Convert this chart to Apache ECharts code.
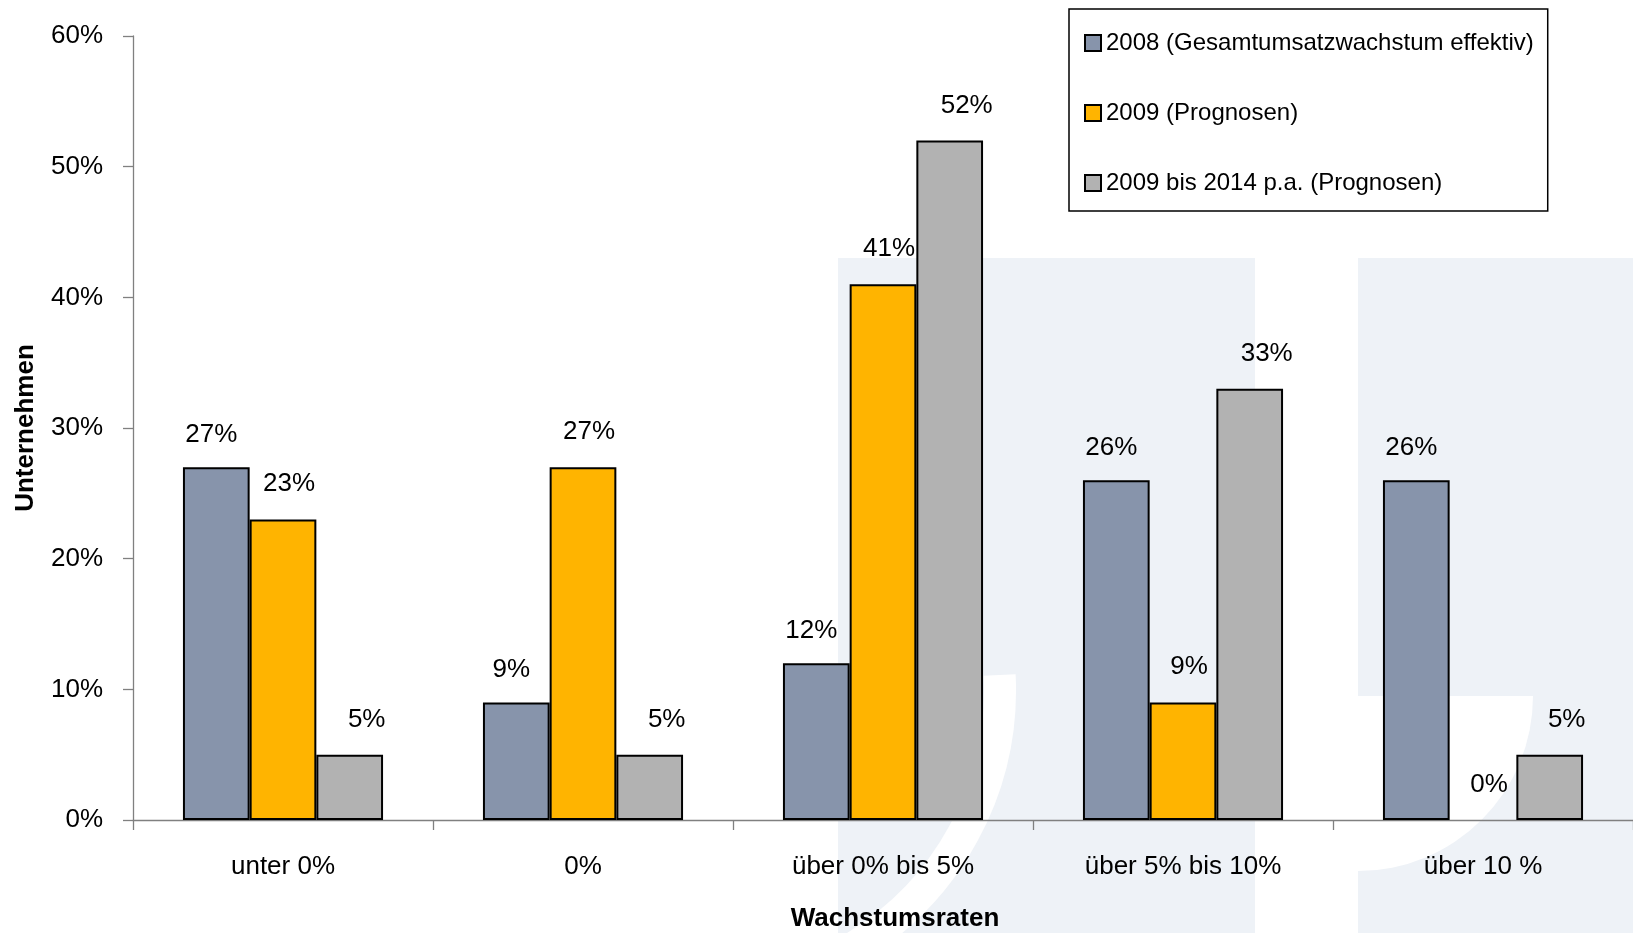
<!DOCTYPE html>
<html>
<head>
<meta charset="utf-8">
<script src="https://cdn.jsdelivr.net/npm/echarts@6/dist/echarts.min.js"></script>
<style>
html,body{margin:0;padding:0;background:#fff;overflow:hidden;}
#chart{width:1633px;height:933px;}
</style>
</head>
<body>
<div id="chart"></div>
<script>
const categories = ['unter 0%', '0%', 'über 0% bis 5%', 'über 5% bis 10%', 'über 10 %'];
const seriesNames = ['2008 (Gesamtumsatzwachstum effektiv)', '2009 (Prognosen)', '2009 bis 2014 p.a. (Prognosen)'];
const values2008 = [27, 9, 12, 26, 26];
const values2009 = [23, 27, 41, 9, 0];
const values2009to2014 = [5, 5, 52, 33, 5];
const yTicks = [0, 10, 20, 30, 40, 50, 60];

const FONT = "'Liberation Sans', Arial, sans-serif";
const colors = ['#8794ab', '#ffb400', '#b2b2b2'];
const labelShift = [[-5, 19], [6, 22], [17, 21]];
const wm = '#eef2f7';

const chart = echarts.init(document.getElementById('chart'));

function makeSeries(idx, values) {
  return {
    name: seriesNames[idx],
    type: 'bar',
    data: values.map(v => v === 0 ? { value: v, itemStyle: { borderWidth: 0 } } : v),
    barGap: '0%',
    barCategoryGap: '33.3%',
    itemStyle: { color: colors[idx], borderColor: '#000', borderWidth: 2 },
    label: {
      show: true,
      position: 'top',
      distance: labelShift[idx][1],
      offset: [labelShift[idx][0], 0],
      formatter: '{c}%',
      fontFamily: FONT,
      fontSize: 26,
      lineHeight: 27,
      color: '#000'
    },
    z: 3
  };
}

chart.setOption({
  backgroundColor: '#fff',
  animation: false,
  graphic: [
    { type: 'rect', z: -5, shape: { x: 838, y: 258, width: 417, height: 675 }, style: { fill: wm } },
    { type: 'arc', z: -4, shape: { cx: 700, cy: 690, r: 300, startAngle: -0.05, endAngle: Math.PI / 3 }, style: { stroke: '#fff', lineWidth: 32, fill: null } },
    { type: 'rect', z: -5, shape: { x: 1358, y: 258, width: 275, height: 675 }, style: { fill: wm } },
    { type: 'sector', z: -4, shape: { cx: 1358, cy: 696, r0: 0, r: 175, startAngle: 0, endAngle: Math.PI / 2 }, style: { fill: '#fff' } }
  ],
  legend: {
    orient: 'vertical',
    left: 1069,
    top: 9,
    padding: [21, 14, 15, 15],
    backgroundColor: '#fff',
    borderColor: '#000',
    borderWidth: 1.5,
    borderRadius: 0,
    itemWidth: 16,
    itemHeight: 16,
    itemGap: 44,
    icon: 'rect',
    textStyle: { fontFamily: FONT, fontSize: 24, lineHeight: 26, color: '#000' },
    data: seriesNames,
    z: 10
  },
  grid: { left: 133, right: 0, top: 36, bottom: 113, containLabel: false, outerBoundsMode: 'none' },
  xAxis: {
    type: 'category',
    data: categories,
    name: 'Wachstumsraten',
    nameLocation: 'middle',
    nameGap: 86,
    nameTextStyle: { fontFamily: FONT, fontSize: 26, fontWeight: 'bold', color: '#000', padding: [0, 0, 0, 24] },
    axisLine: { lineStyle: { color: '#808080', width: 1.3 } },
    axisTick: { show: true, alignWithLabel: false, length: 10, lineStyle: { color: '#808080', width: 1.3 } },
    axisLabel: { fontFamily: FONT, fontSize: 26, color: '#000', margin: 34, interval: 0 },
    splitLine: { show: false }
  },
  yAxis: {
    type: 'value',
    min: yTicks[0],
    max: yTicks[yTicks.length - 1],
    interval: yTicks[1] - yTicks[0],
    name: 'Unternehmen',
    nameLocation: 'middle',
    nameGap: 94,
    nameRotate: 90,
    nameTextStyle: { fontFamily: FONT, fontSize: 26, fontWeight: 'bold', color: '#000' },
    axisLine: { show: true, lineStyle: { color: '#808080', width: 1.3 } },
    axisTick: { show: true, length: 10, lineStyle: { color: '#808080', width: 1.3 } },
    axisLabel: { fontFamily: FONT, fontSize: 26, color: '#000', margin: 30, formatter: '{value}%' },
    splitLine: { show: false }
  },
  series: [
    makeSeries(0, values2008),
    makeSeries(1, values2009),
    makeSeries(2, values2009to2014)
  ]
});
</script>
</body>
</html>
